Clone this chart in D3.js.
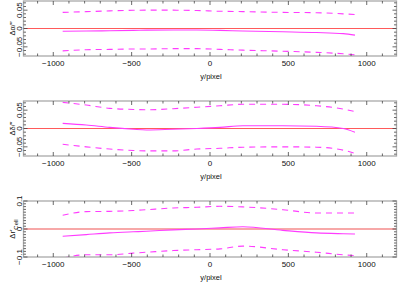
<!DOCTYPE html>
<html>
<head>
<meta charset="utf-8">
<script src="https://cdn.jsdelivr.net/npm/d3@7"></script>
<style>
  body { margin: 0; background: #fff; }
  svg { display: block; font-family: "Liberation Sans", Arial, sans-serif; }
</style>
</head>
<body>
<svg id="chart" width="398" height="283"></svg>
<script>
// sample positions along y/pixel (shared by all panels)
const xPos = [-940, -790, -640, -490, -405, -235, -83, 64, 210, 465, 680, 850, 925];

// panel 1: delta alpha
const alphaMid = [-0.0077, -0.007, -0.006, -0.005, -0.0045, -0.004, -0.004, -0.005, -0.007, -0.009, -0.011, -0.014, -0.018];
const alphaUp  = [0.044, 0.046, 0.048, 0.0496, 0.050, 0.050, 0.049, 0.047, 0.046, 0.044, 0.043, 0.040, 0.038];
const alphaLo  = [-0.061, -0.058, -0.057, -0.056, -0.056, -0.055, -0.055, -0.057, -0.059, -0.062, -0.065, -0.069, -0.072];

// panel 2: delta delta
const deltaMid = [0.014, 0.0095, 0.003, -0.002, -0.004, -0.002, 0.000, 0.003, 0.0077, 0.0077, 0.006, 0.000, -0.0104];
const deltaUp  = [0.0714, 0.064, 0.055, 0.052, 0.051, 0.054, 0.058, 0.062, 0.066, 0.066, 0.062, 0.053, 0.046];
const deltaLo  = [-0.043, -0.050, -0.056, -0.060, -0.061, -0.061, -0.056, -0.054, -0.051, -0.050, -0.051, -0.059, -0.068];

// panel 3: delta r'
const rMid = [-0.026, -0.020, -0.014, -0.010, -0.008, -0.003, 0.000, 0.004, 0.008, -0.005, -0.014, -0.017, -0.018];
const rUp  = [0.049, 0.062, 0.063, 0.066, 0.069, 0.075, 0.0775, 0.081, 0.079, 0.069, 0.057, 0.057, 0.057];
const rLo  = [-0.104, -0.092, -0.092, -0.086, -0.083, -0.077, -0.074, -0.071, -0.061, -0.074, -0.083, -0.092, -0.095];

const xDomain = [-1190, 1190];
const xTicks = [-1000, -500, 0, 500, 1000];

const panels = [
  { title: "Δα/″", top: 1, h: 55, dom: [-0.075, 0.075], ticks: [-0.05, 0, 0.05], minor: 0.01, mid: alphaMid, up: alphaUp, lo: alphaLo, zero: { c: "#ff5a5a", w: 1.2 } },
  { title: "Δδ/″", top: 101, h: 55, dom: [-0.075, 0.075], ticks: [-0.05, 0, 0.05], minor: 0.01, mid: deltaMid, up: deltaUp, lo: deltaLo, zero: { c: "#ff5a5a", w: 1.2 } },
  { title: "Δr′", sub: "Cell", top: 201, h: 56, dom: [-0.1, 0.1], ticks: [-0.1, 0, 0.1], minor: 0.01, mid: rMid, up: rUp, lo: rLo, zero: { c: "#f7a8a8", w: 2 } }
];

const svg = d3.select("#chart");
const left = 23.5, right = 396.5;
const x = d3.scaleLinear().domain(xDomain).range([left, right]);
const fmt = v => v === 0 ? "0" : d3.format(".2~f")(v).replace("-", "−");

panels.forEach((p, i) => {
  const y = d3.scaleLinear().domain(p.dom).range([p.top + p.h, p.top]);
  const g = svg.append("g");

  g.append("clipPath").attr("id", "clip" + i)
    .append("rect").attr("x", left).attr("y", p.top).attr("width", right - left).attr("height", p.h);

  // zero line
  g.append("line")
    .attr("x1", left).attr("x2", right)
    .attr("y1", y(0)).attr("y2", y(0))
    .attr("stroke", p.zero.c).attr("stroke-width", p.zero.w);

  // curves
  const line = d3.line()
    .x((d, j) => x(xPos[j]))
    .y(d => y(d))
    .curve(d3.curveMonotoneX);

  const lines = g.append("g").attr("clip-path", `url(#clip${i})`);
  [p.up, p.lo].forEach(s => {
    lines.append("path").datum(s)
      .attr("fill", "none").attr("stroke", "#ff3cff").attr("stroke-width", 1.1)
      .attr("stroke-dasharray", "6,5")
      .attr("d", line);
  });
  lines.append("path").datum(p.mid)
    .attr("fill", "none").attr("stroke", "#ff3cff").attr("stroke-width", 1.1)
    .attr("d", line);

  // frame
  g.append("rect")
    .attr("x", left).attr("y", p.top).attr("width", right - left).attr("height", p.h)
    .attr("fill", "none").attr("stroke", "#aaa").attr("stroke-width", 1.3);

  // x ticks (major + minor on top and bottom, inward)
  d3.range(-1100, 1101, 100).forEach(v => {
    const len = xTicks.includes(v) ? 4 : 2.5;
    g.append("line").attr("x1", x(v)).attr("x2", x(v))
      .attr("y1", p.top + p.h).attr("y2", p.top + p.h - len)
      .attr("stroke", "#444").attr("stroke-width", 0.8);
    g.append("line").attr("x1", x(v)).attr("x2", x(v))
      .attr("y1", p.top).attr("y2", p.top + len)
      .attr("stroke", "#444").attr("stroke-width", 0.8);
  });

  g.selectAll(".xl").data(xTicks).enter().append("text")
    .attr("x", d => x(d)).attr("y", p.top + p.h + 10)
    .attr("text-anchor", "middle").attr("font-size", 8).attr("fill", "#111")
    .text(d => d === 0 ? "0" : String(d).replace("-", "−"));

  g.append("text")
    .attr("x", 211).attr("y", p.top + p.h + 23)
    .attr("text-anchor", "middle").attr("font-size", 7.5).attr("fill", "#111")
    .text("y/pixel");

  // y ticks (left and right, inward), minor every p.minor
  const yM = d3.range(Math.ceil(p.dom[0] / p.minor - 1e-9), Math.floor(p.dom[1] / p.minor + 1e-9) + 1).map(k => k * p.minor);
  yM.forEach(v => {
    const major = p.ticks.some(t => Math.abs(t - v) < 1e-9);
    const len = major ? 4 : 2.5;
    g.append("line").attr("x1", left).attr("x2", left + len)
      .attr("y1", y(v)).attr("y2", y(v))
      .attr("stroke", "#444").attr("stroke-width", 0.8);
    g.append("line").attr("x1", right).attr("x2", right - len)
      .attr("y1", y(v)).attr("y2", y(v))
      .attr("stroke", "#444").attr("stroke-width", 0.8);
  });

  g.selectAll(".yl").data(p.ticks).enter().append("text")
    .attr("transform", d => `translate(${left - 2},${y(d)}) rotate(-90)`)
    .attr("text-anchor", "middle").attr("font-size", 8).attr("fill", "#111")
    .text(fmt);

  const t = g.append("text")
    .attr("transform", `translate(${left - 9},${p.top + p.h / 2}) rotate(-90)`)
    .attr("text-anchor", "middle").attr("font-size", 7.5).attr("fill", "#111")
    .text(p.title);
  if (p.sub) {
    t.append("tspan").attr("baseline-shift", "sub").attr("font-size", 6).text(p.sub);
  }
});
</script>
</body>
</html>
